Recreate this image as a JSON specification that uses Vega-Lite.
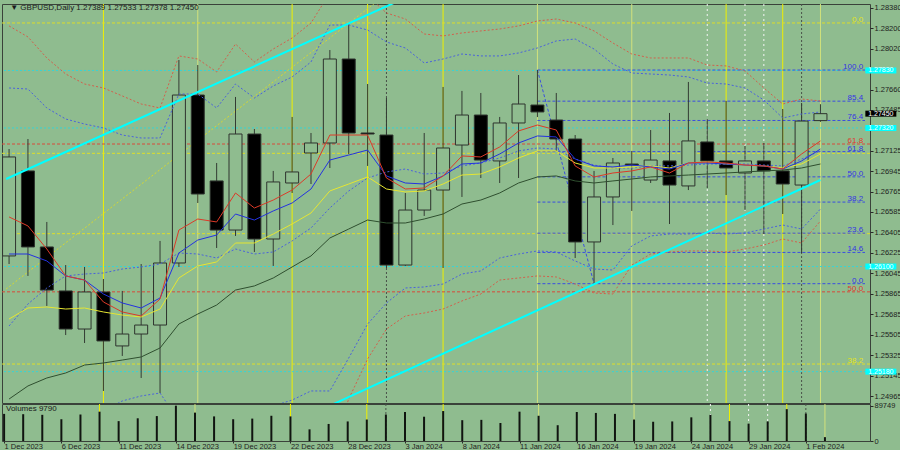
{
"$schema": "https://vega.github.io/schema/vega-lite/v6.json",
"background": "#8fbc8f",
"padding": {"left": 1, "top": 3, "right": 0, "bottom": 0},
"spacing": 1,
"bounds": "flush",
"config": {
  "view": {"stroke": "#3a423a", "strokeWidth": 1, "fill": "#8fbc8f"},
  "font": "Liberation Sans",
  "axis": {"labelFont": "Liberation Sans", "labelFontSize": 8, "labelColor": "#1e1e1e", "tickColor": "#2a2a2a", "domain": false, "grid": false}
},
"datasets": {
  "bars": [
{"i":0,"o":1.26198,"h":1.27139,"l":1.26127,"c":1.27069,"v":68900,"r":1.26541,"b":1.26215,"y":1.25643,"g":1.24939,"bu":1.27676,"bm":1.25582,"ru":1.28222},
{"i":1,"o":1.26946,"h":1.27227,"l":1.26022,"c":1.26277,"v":68100,"r":1.26462,"b":1.26215,"y":1.25740,"g":1.25054,"bu":1.27667,"bm":1.25775,"ru":1.28125},
{"i":2,"o":1.26277,"h":1.26497,"l":1.25758,"c":1.25898,"v":66500,"r":1.26259,"b":1.26154,"y":1.25749,"g":1.25124,"bu":1.27500,"bm":1.25916,"ru":1.27940},
{"i":3,"o":1.25890,"h":1.26118,"l":1.25502,"c":1.25555,"v":55300,"r":1.26022,"b":1.26022,"y":1.25731,"g":1.25168,"bu":1.27403,"bm":1.26022,"ru":1.27799},
{"i":4,"o":1.25555,"h":1.26101,"l":1.25432,"c":1.25881,"v":67300,"r":1.25986,"b":1.25986,"y":1.25740,"g":1.25238,"bu":1.27359,"bm":1.26039,"ru":1.27711},
{"i":5,"o":1.25881,"h":1.25995,"l":1.25010,"c":1.25450,"v":74500,"r":1.25793,"b":1.25863,"y":1.25705,"g":1.25256,"bu":1.27324,"bm":1.26048,"bl":1.24834,"ru":1.27676},
{"i":6,"o":1.25406,"h":1.25890,"l":1.25318,"c":1.25511,"v":50500,"r":1.25705,"b":1.25784,"y":1.25678,"g":1.25282,"bu":1.27262,"bm":1.26083,"bl":1.24922,"ru":1.27606},
{"i":7,"o":1.25511,"h":1.26127,"l":1.25124,"c":1.25590,"v":57700,"r":1.25670,"b":1.25740,"y":1.25661,"g":1.25309,"bu":1.27236,"bm":1.26101,"bl":1.24966,"ru":1.27535},
{"i":8,"o":1.25590,"h":1.26330,"l":1.24992,"c":1.26136,"v":63300,"r":1.25819,"b":1.25828,"y":1.25731,"g":1.25388,"bu":1.27236,"bm":1.26127,"bl":1.24992,"ru":1.27500},
{"i":9,"o":1.26136,"h":1.27922,"l":1.26101,"c":1.27614,"v":89749,"r":1.26426,"b":1.26224,"y":1.26004,"g":1.25599,"bu":1.27623,"bm":1.26224,"bl":1.24746,"ru":1.27958},
{"i":10,"o":1.27614,"h":1.27878,"l":1.26664,"c":1.26743,"v":72100,"r":1.26523,"b":1.26338,"y":1.26110,"g":1.25687,"bu":1.27623,"bm":1.26215,"bl":1.24658,"ru":1.27931},
{"i":11,"o":1.26858,"h":1.27016,"l":1.26268,"c":1.26426,"v":62500,"r":1.26497,"b":1.26382,"y":1.26145,"g":1.25766,"bu":1.27500,"bm":1.26180,"bl":1.24702,"ru":1.27817},
{"i":12,"o":1.26426,"h":1.27597,"l":1.26374,"c":1.27271,"v":55300,"r":1.26752,"b":1.26567,"y":1.26312,"g":1.25898,"bu":1.27711,"bm":1.26259,"bl":1.24746,"ru":1.28063},
{"i":13,"o":1.27271,"h":1.27315,"l":1.26233,"c":1.26347,"v":56900,"r":1.26620,"b":1.26514,"y":1.26312,"g":1.25934,"bu":1.27588,"bm":1.26215,"bl":1.24834,"ru":1.27905},
{"i":14,"o":1.26347,"h":1.26946,"l":1.26110,"c":1.26849,"v":64100,"r":1.26690,"b":1.26594,"y":1.26391,"g":1.26004,"bu":1.27694,"bm":1.26233,"bl":1.24878,"ru":1.28019},
{"i":15,"o":1.26840,"h":1.27421,"l":1.26752,"c":1.26937,"v":62500,"r":1.26778,"b":1.26664,"y":1.26479,"g":1.26101,"bu":1.27773,"bm":1.26330,"bl":1.24930,"ru":1.28116},
{"i":16,"o":1.27104,"h":1.27280,"l":1.26831,"c":1.27192,"v":29600,"r":1.26919,"b":1.26787,"y":1.26576,"g":1.26198,"bu":1.27905,"bm":1.26444,"bl":1.25010,"ru":1.28248},
{"i":17,"o":1.27192,"h":1.28010,"l":1.26972,"c":1.27931,"v":43300,"r":1.27262,"b":1.27042,"y":1.26770,"g":1.26356,"bu":1.28230,"bm":1.26620,"bl":1.25010,"ru":1.28512,"rl":1.24482},
{"i":18,"o":1.27931,"h":1.28248,"l":1.27095,"c":1.27280,"v":49700,"r":1.27262,"b":1.27086,"y":1.26831,"g":1.26435,"bu":1.28230,"bm":1.26770,"bl":1.25300,"ru":1.28574,"rl":1.24939},
{"i":19,"o":1.27280,"h":1.27711,"l":1.26990,"c":1.27271,"v":54500,"r":1.27262,"b":1.27130,"y":1.26893,"g":1.26514,"bu":1.28186,"bm":1.26884,"bl":1.25599,"ru":1.28486,"rl":1.25291},
{"i":20,"o":1.27262,"h":1.27588,"l":1.26092,"c":1.26118,"v":67300,"r":1.26884,"b":1.26902,"y":1.26787,"g":1.26488,"bu":1.28081,"bm":1.26937,"bl":1.25784,"ru":1.28336,"rl":1.25555},
{"i":21,"o":1.26118,"h":1.26752,"l":1.26110,"c":1.26602,"v":73700,"r":1.26787,"b":1.26840,"y":1.26761,"g":1.26488,"bu":1.28028,"bm":1.26963,"bl":1.25916,"ru":1.28283,"rl":1.25670},
{"i":22,"o":1.26602,"h":1.27280,"l":1.26550,"c":1.26778,"v":61700,"r":1.26796,"b":1.26831,"y":1.26770,"g":1.26523,"bu":1.27896,"bm":1.26919,"bl":1.25925,"ru":1.28151,"rl":1.25696},
{"i":23,"o":1.26778,"h":1.27685,"l":1.26092,"c":1.27148,"v":76100,"r":1.26902,"b":1.26902,"y":1.26831,"g":1.26567,"bu":1.27931,"bm":1.26928,"bl":1.25951,"ru":1.28134,"rl":1.25731},
{"i":24,"o":1.27174,"h":1.27650,"l":1.26717,"c":1.27438,"v":52900,"r":1.27078,"b":1.27007,"y":1.26910,"g":1.26655,"bu":1.27975,"bm":1.26990,"bl":1.26039,"ru":1.28160,"rl":1.25802},
{"i":25,"o":1.27438,"h":1.27632,"l":1.26884,"c":1.27042,"v":53700,"r":1.27069,"b":1.27016,"y":1.26919,"g":1.26690,"bu":1.27958,"bm":1.27016,"bl":1.26066,"ru":1.28178,"rl":1.25863},
{"i":26,"o":1.27034,"h":1.27421,"l":1.26840,"c":1.27368,"v":45700,"r":1.27157,"b":1.27095,"y":1.26981,"g":1.26752,"bu":1.27958,"bm":1.27060,"bl":1.26180,"ru":1.28195,"rl":1.25986},
{"i":27,"o":1.27368,"h":1.27790,"l":1.26884,"c":1.27535,"v":74500,"r":1.27298,"b":1.27192,"y":1.27060,"g":1.26840,"bu":1.27984,"bm":1.27122,"bl":1.26215,"ru":1.28222,"rl":1.26004},
{"i":28,"o":1.27526,"h":1.27834,"l":1.27420,"c":1.27465,"v":64100,"r":1.27350,"b":1.27254,"y":1.27122,"g":1.26893,"bu":1.28028,"bm":1.27148,"bl":1.26242,"ru":1.28266,"rl":1.26022},
{"i":29,"o":1.27394,"h":1.27632,"l":1.27122,"c":1.27227,"v":40100,"r":1.27306,"b":1.27245,"y":1.27122,"g":1.26902,"bu":1.28090,"bm":1.27139,"bl":1.26233,"ru":1.28283,"rl":1.26013},
{"i":30,"o":1.27227,"h":1.27262,"l":1.26180,"c":1.26321,"v":73700,"r":1.26990,"b":1.27051,"y":1.27016,"g":1.26858,"bu":1.28107,"bm":1.27051,"bl":1.26154,"ru":1.28248,"rl":1.25951},
{"i":31,"o":1.26321,"h":1.26946,"l":1.25954,"c":1.26717,"v":71300,"r":1.26893,"b":1.26990,"y":1.26972,"g":1.26840,"bu":1.28019,"bm":1.26998,"bl":1.26083,"ru":1.28178,"rl":1.25872},
{"i":32,"o":1.26717,"h":1.27060,"l":1.26470,"c":1.27016,"v":68900,"r":1.26928,"b":1.26981,"y":1.26972,"g":1.26858,"bu":1.27887,"bm":1.26972,"bl":1.26074,"ru":1.28072,"rl":1.25863},
{"i":33,"o":1.27007,"h":1.27122,"l":1.26594,"c":1.26998,"v":54500,"r":1.26946,"b":1.26998,"y":1.26981,"g":1.26875,"bu":1.27808,"bm":1.26972,"bl":1.26286,"ru":1.27975,"rl":1.26118},
{"i":34,"o":1.26866,"h":1.27306,"l":1.26840,"c":1.27042,"v":48900,"r":1.26981,"b":1.26981,"y":1.26990,"g":1.26893,"bu":1.27799,"bm":1.26990,"bl":1.26374,"ru":1.27940,"rl":1.26215},
{"i":35,"o":1.27034,"h":1.27456,"l":1.26479,"c":1.26822,"v":49700,"r":1.26928,"b":1.26963,"y":1.26972,"g":1.26902,"bu":1.27790,"bm":1.26990,"bl":1.26391,"ru":1.27940,"rl":1.26233},
{"i":36,"o":1.26814,"h":1.27729,"l":1.26778,"c":1.27210,"v":60100,"r":1.27016,"b":1.27016,"y":1.27016,"g":1.26910,"bu":1.27773,"bm":1.26998,"bl":1.26391,"ru":1.27940,"rl":1.26242},
{"i":37,"o":1.27201,"h":1.27403,"l":1.26796,"c":1.27034,"v":66500,"r":1.27025,"b":1.27016,"y":1.27025,"g":1.26919,"bu":1.27720,"bm":1.27007,"bl":1.26400,"ru":1.27878,"rl":1.26242},
{"i":38,"o":1.27034,"h":1.27562,"l":1.26734,"c":1.26972,"v":50500,"r":1.27016,"b":1.27007,"y":1.27007,"g":1.26928,"bu":1.27711,"bm":1.27007,"bl":1.26391,"ru":1.27870,"rl":1.26233},
{"i":39,"o":1.26928,"h":1.27166,"l":1.26602,"c":1.27034,"v":44100,"r":1.26998,"b":1.26998,"y":1.26998,"g":1.26937,"bu":1.27676,"bm":1.27007,"bl":1.26400,"ru":1.27826,"rl":1.26259},
{"i":40,"o":1.27034,"h":1.27192,"l":1.26391,"c":1.26946,"v":49700,"r":1.26990,"b":1.26990,"y":1.26990,"g":1.26946,"bu":1.27570,"bm":1.26998,"bl":1.26435,"ru":1.27676,"rl":1.26294},
{"i":41,"o":1.26946,"h":1.27491,"l":1.26567,"c":1.26831,"v":80900,"r":1.26963,"b":1.26963,"y":1.26972,"g":1.26954,"bu":1.27412,"bm":1.26990,"bl":1.26470,"ru":1.27535,"rl":1.26347},
{"i":42,"o":1.26822,"h":1.27544,"l":1.26224,"c":1.27385,"v":69700,"r":1.27095,"b":1.27034,"y":1.27007,"g":1.26972,"bu":1.27447,"bm":1.27051,"bl":1.26435,"ru":1.27579,"rl":1.26312},
{"i":43,"o":1.27389,"h":1.27533,"l":1.27378,"c":1.27450,"v":9790,"r":1.27210,"b":1.27139,"y":1.27095,"g":1.27007,"bu":1.27465,"bm":1.27122,"bl":1.26611,"ru":1.27562,"rl":1.26506}
  ],
  "vyB": [{"i":5},{"i":15},{"i":19},{"i":23},{"i":38},{"i":41}],
  "vyP": [{"i":10},{"i":28},{"i":33},{"i":43}],
  "vGray": [{"i":20},{"i":42}],
  "vWhite": [{"i":37},{"i":39},{"i":40}],
  "fibB": [{"lv":"100.0","p":1.27834},{"lv":"85.4","p":1.27560},{"lv":"76.4","p":1.27390},{"lv":"61.8","p":1.27116},{"lv":"50.0","p":1.26894},{"lv":"38.2","p":1.26672},{"lv":"23.6","p":1.26398},{"lv":"14.6","p":1.26229},{"lv":"0.0","p":1.25954}],
  "fibR": [{"lv":"61.8","p":1.27183},{"lv":"50.0","p":1.25882}],
  "fibY": [{"lv":"0.0","p":1.28248},{"lv":"38.2","p":1.25247}],
  "fibYx": [{"p":1.27101},{"p":1.26394}],
  "cyanH": [{"p":1.27830,"t":"1.27830"},{"p":1.27324,"t":"1.27320"},{"p":1.26105,"t":"1.26100"},{"p":1.25180,"t":"1.25180"}],
  "last": [{"p":1.27450,"t":"1.27450"}],
  "fibDiag": [{"i":28,"p":1.27834},{"i":31,"p":1.25954}],
  "yDiag": [{"i":-0.157,"p":1.25907},{"i":20,"p":1.28503}],
  "cyanUp": [{"i":-0.157,"p":1.26875},{"i":21,"p":1.28470}],
  "cyanLo": [{"i":17.0,"p":1.24880},{"i":43.0,"p":1.26866}]
},
"vconcat": [
{
  "width": 868, "height": 399,
  "resolve": {"axis": {"x": "independent", "y": "independent"}},
  "layer": [
    {"data": {"name": "vyB"}, "mark": {"type": "rule", "color": "#f0f000", "strokeWidth": 1},
     "encoding": {"x": {"field": "i", "type": "quantitative", "scale": {"domain": [-0.11, 45.36], "nice": false, "zero": false}, "axis": null}}},
    {"data": {"name": "vyP"}, "mark": {"type": "rule", "color": "#d2e27c", "strokeWidth": 1},
     "encoding": {"x": {"field": "i", "type": "quantitative", "scale": {"domain": [-0.11, 45.36], "nice": false, "zero": false}, "axis": null}}},
    {"data": {"name": "vGray"}, "mark": {"type": "rule", "color": "#4a524a", "strokeWidth": 1, "strokeDash": [2, 2]},
     "encoding": {"x": {"field": "i", "type": "quantitative", "scale": {"domain": [-0.11, 45.36], "nice": false, "zero": false}, "axis": null}}},
    {"data": {"name": "vWhite"}, "mark": {"type": "rule", "color": "#f4f4f4", "strokeWidth": 1, "strokeDash": [2, 3]},
     "encoding": {"x": {"field": "i", "type": "quantitative", "scale": {"domain": [-0.11, 45.36], "nice": false, "zero": false}, "axis": null}}},
    {"data": {"name": "fibR"}, "mark": {"type": "rule", "color": "#d84a3a", "strokeWidth": 1, "strokeDash": [3, 2]},
     "encoding": {"y": {"field": "p", "type": "quantitative", "scale": {"domain": [1.24904, 1.28415], "nice": false, "zero": false}, "axis": null}}},
    {"data": {"name": "fibY"}, "mark": {"type": "rule", "color": "#dede2a", "strokeWidth": 1, "strokeDash": [3, 2]},
     "encoding": {"y": {"field": "p", "type": "quantitative", "scale": {"domain": [1.24904, 1.28415], "nice": false, "zero": false}, "axis": null}}},
    {"data": {"name": "fibYx"}, "mark": {"type": "rule", "color": "#dede2a", "strokeWidth": 1, "strokeDash": [3, 2]},
     "encoding": {"y": {"field": "p", "type": "quantitative", "scale": {"domain": [1.24904, 1.28415], "nice": false, "zero": false}, "axis": null}}},
    {"data": {"name": "cyanH"}, "mark": {"type": "rule", "color": "#38d4d4", "strokeWidth": 1, "strokeDash": [2, 2]},
     "encoding": {"y": {"field": "p", "type": "quantitative", "scale": {"domain": [1.24904, 1.28415], "nice": false, "zero": false}, "axis": null}}},
    {"data": {"name": "fibB"}, "mark": {"type": "rule", "color": "#3a4ee0", "strokeWidth": 1, "strokeDash": [3, 2]},
     "encoding": {
       "x": {"datum": 28, "type": "quantitative", "scale": {"domain": [-0.11, 45.36], "nice": false, "zero": false}, "axis": null},
       "x2": {"datum": 45.36},
       "y": {"field": "p", "type": "quantitative", "scale": {"domain": [1.24904, 1.28415], "nice": false, "zero": false}, "axis": null}}},
    {"data": {"name": "fibDiag"}, "mark": {"type": "line", "color": "#3a4ee0", "strokeWidth": 1, "strokeDash": [3, 2], "clip": true},
     "encoding": {
       "x": {"field": "i", "type": "quantitative", "scale": {"domain": [-0.11, 45.36], "nice": false, "zero": false}, "axis": null},
       "y": {"field": "p", "type": "quantitative", "scale": {"domain": [1.24904, 1.28415], "nice": false, "zero": false}, "axis": null}}},
    {"data": {"name": "yDiag"}, "mark": {"type": "line", "color": "#d8d830", "strokeWidth": 1, "strokeDash": [2, 2], "clip": true},
     "encoding": {
       "x": {"field": "i", "type": "quantitative", "scale": {"domain": [-0.11, 45.36], "nice": false, "zero": false}, "axis": null},
       "y": {"field": "p", "type": "quantitative", "scale": {"domain": [1.24904, 1.28415], "nice": false, "zero": false}, "axis": null}}},
    {"data": {"name": "bars"}, "mark": {"type": "rule", "color": "#333b33", "strokeWidth": 1},
     "encoding": {
       "x": {"field": "i", "type": "quantitative", "scale": {"domain": [-0.11, 45.36], "nice": false, "zero": false}, "axis": null},
       "y": {"field": "l", "type": "quantitative", "scale": {"domain": [1.24904, 1.28415], "nice": false, "zero": false}, "axis": null},
       "y2": {"field": "h"}}},
    {"data": {"name": "bars"}, "mark": {"type": "bar", "size": 13, "stroke": "#2e332e", "strokeWidth": 1},
     "encoding": {
       "x": {"field": "i", "type": "quantitative", "scale": {"domain": [-0.11, 45.36], "nice": false, "zero": false}, "axis": null},
       "y": {"field": "o", "type": "quantitative", "scale": {"domain": [1.24904, 1.28415], "nice": false, "zero": false},
             "axis": {"orient": "right", "title": null, "values": [1.24965, 1.25145, 1.25325, 1.25505, 1.25685, 1.25865, 1.26045, 1.26225, 1.26405, 1.26585, 1.26765, 1.26945, 1.27125, 1.27485, 1.2766, 1.2802, 1.282, 1.2838], "format": ".5f", "tickSize": 3, "labelPadding": 1, "labelFontSize": 7.5}},
       "y2": {"field": "c"},
       "fill": {"condition": {"test": "datum.c >= datum.o", "value": "#8fbc8f"}, "value": "#000000"}}},
    {"data": {"name": "bars"}, "mark": {"type": "line", "color": "#d2604c", "strokeWidth": 1, "strokeDash": [2, 2], "clip": true},
     "encoding": {
       "x": {"field": "i", "type": "quantitative", "scale": {"domain": [-0.11, 45.36], "nice": false, "zero": false}, "axis": null},
       "y": {"field": "ru", "type": "quantitative", "scale": {"domain": [1.24904, 1.28415], "nice": false, "zero": false}, "axis": null}}},
    {"data": {"name": "bars"}, "mark": {"type": "line", "color": "#d2604c", "strokeWidth": 1, "strokeDash": [2, 2], "clip": true},
     "encoding": {
       "x": {"field": "i", "type": "quantitative", "scale": {"domain": [-0.11, 45.36], "nice": false, "zero": false}, "axis": null},
       "y": {"field": "rl", "type": "quantitative", "scale": {"domain": [1.24904, 1.28415], "nice": false, "zero": false}, "axis": null}}},
    {"data": {"name": "bars"}, "mark": {"type": "line", "color": "#4a62dc", "strokeWidth": 1, "strokeDash": [2, 2], "clip": true},
     "encoding": {
       "x": {"field": "i", "type": "quantitative", "scale": {"domain": [-0.11, 45.36], "nice": false, "zero": false}, "axis": null},
       "y": {"field": "bu", "type": "quantitative", "scale": {"domain": [1.24904, 1.28415], "nice": false, "zero": false}, "axis": null}}},
    {"data": {"name": "bars"}, "mark": {"type": "line", "color": "#4a62dc", "strokeWidth": 1, "strokeDash": [2, 2], "clip": true},
     "encoding": {
       "x": {"field": "i", "type": "quantitative", "scale": {"domain": [-0.11, 45.36], "nice": false, "zero": false}, "axis": null},
       "y": {"field": "bm", "type": "quantitative", "scale": {"domain": [1.24904, 1.28415], "nice": false, "zero": false}, "axis": null}}},
    {"data": {"name": "bars"}, "mark": {"type": "line", "color": "#4a62dc", "strokeWidth": 1, "strokeDash": [2, 2], "clip": true},
     "encoding": {
       "x": {"field": "i", "type": "quantitative", "scale": {"domain": [-0.11, 45.36], "nice": false, "zero": false}, "axis": null},
       "y": {"field": "bl", "type": "quantitative", "scale": {"domain": [1.24904, 1.28415], "nice": false, "zero": false}, "axis": null}}},
    {"data": {"name": "bars"}, "mark": {"type": "line", "color": "#2f4f2f", "strokeWidth": 1, "clip": true},
     "encoding": {
       "x": {"field": "i", "type": "quantitative", "scale": {"domain": [-0.11, 45.36], "nice": false, "zero": false}, "axis": null},
       "y": {"field": "g", "type": "quantitative", "scale": {"domain": [1.24904, 1.28415], "nice": false, "zero": false}, "axis": null}}},
    {"data": {"name": "bars"}, "mark": {"type": "line", "color": "#e6e632", "strokeWidth": 1, "clip": true},
     "encoding": {
       "x": {"field": "i", "type": "quantitative", "scale": {"domain": [-0.11, 45.36], "nice": false, "zero": false}, "axis": null},
       "y": {"field": "y", "type": "quantitative", "scale": {"domain": [1.24904, 1.28415], "nice": false, "zero": false}, "axis": null}}},
    {"data": {"name": "bars"}, "mark": {"type": "line", "color": "#2432e0", "strokeWidth": 1, "clip": true},
     "encoding": {
       "x": {"field": "i", "type": "quantitative", "scale": {"domain": [-0.11, 45.36], "nice": false, "zero": false}, "axis": null},
       "y": {"field": "b", "type": "quantitative", "scale": {"domain": [1.24904, 1.28415], "nice": false, "zero": false}, "axis": null}}},
    {"data": {"name": "bars"}, "mark": {"type": "line", "color": "#dc3a28", "strokeWidth": 1, "clip": true},
     "encoding": {
       "x": {"field": "i", "type": "quantitative", "scale": {"domain": [-0.11, 45.36], "nice": false, "zero": false}, "axis": null},
       "y": {"field": "r", "type": "quantitative", "scale": {"domain": [1.24904, 1.28415], "nice": false, "zero": false}, "axis": null}}},
    {"data": {"name": "cyanUp"}, "mark": {"type": "line", "color": "#00ffff", "strokeWidth": 2, "clip": true},
     "encoding": {
       "x": {"field": "i", "type": "quantitative", "scale": {"domain": [-0.11, 45.36], "nice": false, "zero": false}, "axis": null},
       "y": {"field": "p", "type": "quantitative", "scale": {"domain": [1.24904, 1.28415], "nice": false, "zero": false}, "axis": null}}},
    {"data": {"name": "cyanLo"}, "mark": {"type": "line", "color": "#00ffff", "strokeWidth": 2, "clip": true},
     "encoding": {
       "x": {"field": "i", "type": "quantitative", "scale": {"domain": [-0.11, 45.36], "nice": false, "zero": false}, "axis": null},
       "y": {"field": "p", "type": "quantitative", "scale": {"domain": [1.24904, 1.28415], "nice": false, "zero": false}, "axis": null}}},
    {"data": {"name": "fibB"}, "mark": {"type": "text", "align": "right", "baseline": "bottom", "dy": 1, "fontSize": 8, "color": "#3434e4"},
     "encoding": {
       "x": {"datum": 45.26, "type": "quantitative", "scale": {"domain": [-0.11, 45.36], "nice": false, "zero": false}, "axis": null},
       "y": {"field": "p", "type": "quantitative", "scale": {"domain": [1.24904, 1.28415], "nice": false, "zero": false}, "axis": null},
       "text": {"field": "lv"}}},
    {"data": {"name": "fibR"}, "mark": {"type": "text", "align": "right", "baseline": "bottom", "dy": 1, "fontSize": 8, "color": "#e03a30"},
     "encoding": {
       "x": {"datum": 45.26, "type": "quantitative", "scale": {"domain": [-0.11, 45.36], "nice": false, "zero": false}, "axis": null},
       "y": {"field": "p", "type": "quantitative", "scale": {"domain": [1.24904, 1.28415], "nice": false, "zero": false}, "axis": null},
       "text": {"field": "lv"}}},
    {"data": {"name": "fibY"}, "mark": {"type": "text", "align": "right", "baseline": "bottom", "dy": 1, "fontSize": 8, "color": "#e4e41c"},
     "encoding": {
       "x": {"datum": 45.26, "type": "quantitative", "scale": {"domain": [-0.11, 45.36], "nice": false, "zero": false}, "axis": null},
       "y": {"field": "p", "type": "quantitative", "scale": {"domain": [1.24904, 1.28415], "nice": false, "zero": false}, "axis": null},
       "text": {"field": "lv"}}},
    {"data": {"name": "cyanH"}, "mark": {"type": "tick", "orient": "horizontal", "size": 31, "thickness": 6, "color": "#00ffff", "opacity": 1},
     "encoding": {
       "x": {"datum": 46.2, "type": "quantitative", "scale": {"domain": [-0.11, 45.36], "nice": false, "zero": false}, "axis": null},
       "y": {"field": "p", "type": "quantitative", "scale": {"domain": [1.24904, 1.28415], "nice": false, "zero": false}, "axis": null}}},
    {"data": {"name": "cyanH"}, "mark": {"type": "text", "align": "center", "baseline": "middle", "fontSize": 7, "color": "#f2ffff"},
     "encoding": {
       "x": {"datum": 46.2, "type": "quantitative", "scale": {"domain": [-0.11, 45.36], "nice": false, "zero": false}, "axis": null},
       "y": {"field": "p", "type": "quantitative", "scale": {"domain": [1.24904, 1.28415], "nice": false, "zero": false}, "axis": null},
       "text": {"field": "t"}}},
    {"data": {"name": "last"}, "mark": {"type": "tick", "orient": "horizontal", "size": 31, "thickness": 6, "color": "#000000", "opacity": 1},
     "encoding": {
       "x": {"datum": 46.2, "type": "quantitative", "scale": {"domain": [-0.11, 45.36], "nice": false, "zero": false}, "axis": null},
       "y": {"field": "p", "type": "quantitative", "scale": {"domain": [1.24904, 1.28415], "nice": false, "zero": false}, "axis": null}}},
    {"data": {"name": "last"}, "mark": {"type": "text", "align": "center", "baseline": "middle", "fontSize": 7, "color": "#ffffff"},
     "encoding": {
       "x": {"datum": 46.2, "type": "quantitative", "scale": {"domain": [-0.11, 45.36], "nice": false, "zero": false}, "axis": null},
       "y": {"field": "p", "type": "quantitative", "scale": {"domain": [1.24904, 1.28415], "nice": false, "zero": false}, "axis": null},
       "text": {"field": "t"}}},
    {"data": {"values": [{"t": "▼  GBPUSD,Daily  1.27389 1.27533 1.27378 1.27450"}]}, "mark": {"type": "text", "align": "left", "baseline": "middle", "fontSize": 8, "color": "#1a1a1a"},
     "encoding": {
       "x": {"datum": 0.06, "type": "quantitative", "scale": {"domain": [-0.11, 45.36], "nice": false, "zero": false}, "axis": null},
       "y": {"datum": 1.2838, "type": "quantitative", "scale": {"domain": [1.24904, 1.28415], "nice": false, "zero": false}, "axis": null},
       "text": {"field": "t"}}}
  ]
},
{
  "width": 868, "height": 37,
  "resolve": {"axis": {"x": "independent", "y": "independent"}},
  "layer": [
    {"data": {"name": "vyB"}, "mark": {"type": "rule", "color": "#f0f000", "strokeWidth": 1},
     "encoding": {"x": {"field": "i", "type": "quantitative", "scale": {"domain": [-0.11, 45.36], "nice": false, "zero": false}, "axis": null}}},
    {"data": {"name": "vyP"}, "mark": {"type": "rule", "color": "#d2e27c", "strokeWidth": 1},
     "encoding": {"x": {"field": "i", "type": "quantitative", "scale": {"domain": [-0.11, 45.36], "nice": false, "zero": false}, "axis": null}}},
    {"data": {"name": "vGray"}, "mark": {"type": "rule", "color": "#4a524a", "strokeWidth": 1, "strokeDash": [2, 2]},
     "encoding": {"x": {"field": "i", "type": "quantitative", "scale": {"domain": [-0.11, 45.36], "nice": false, "zero": false}, "axis": null}}},
    {"data": {"name": "vWhite"}, "mark": {"type": "rule", "color": "#f4f4f4", "strokeWidth": 1, "strokeDash": [2, 3]},
     "encoding": {"x": {"field": "i", "type": "quantitative", "scale": {"domain": [-0.11, 45.36], "nice": false, "zero": false}, "axis": null}}},
    {"data": {"name": "bars"}, "mark": {"type": "rule", "color": "#101410", "strokeWidth": 2},
     "encoding": {
       "x": {"field": "i", "type": "quantitative", "scale": {"domain": [-0.11, 45.36], "nice": false, "zero": false},
             "axis": {"orient": "bottom", "title": null, "values": [0, 3, 6, 9, 12, 15, 18, 21, 24, 27, 30, 33, 36, 39, 42],
                      "labelExpr": "['1 Dec 2023','6 Dec 2023','11 Dec 2023','14 Dec 2023','19 Dec 2023','22 Dec 2023','28 Dec 2023','3 Jan 2024','8 Jan 2024','11 Jan 2024','16 Jan 2024','19 Jan 2024','24 Jan 2024','29 Jan 2024','1 Feb 2024'][round(datum.value/3)]",
                      "labelAlign": "left", "labelBaseline": "top", "tickSize": 2, "labelPadding": -1, "labelFontSize": 7.5, "labelOverlap": false, "labelBound": false, "labelFlush": false}},
       "y": {"field": "v", "type": "quantitative", "scale": {"domain": [0, 94000], "nice": false, "zero": false},
             "axis": {"orient": "right", "title": null, "values": [0, 89749], "format": "d", "tickSize": 3, "labelPadding": 1, "labelFontSize": 7.5}},
       "y2": {"datum": 0}}},
    {"data": {"values": [{"t": "Volumes 9790"}]}, "mark": {"type": "text", "align": "left", "baseline": "middle", "fontSize": 8, "color": "#1a1a1a"},
     "encoding": {
       "x": {"datum": 0.1, "type": "quantitative", "scale": {"domain": [-0.11, 45.36], "nice": false, "zero": false}, "axis": null},
       "y": {"datum": 82000, "type": "quantitative", "scale": {"domain": [0, 94000], "nice": false, "zero": false}, "axis": null},
       "text": {"field": "t"}}}
  ]
}
]
}
